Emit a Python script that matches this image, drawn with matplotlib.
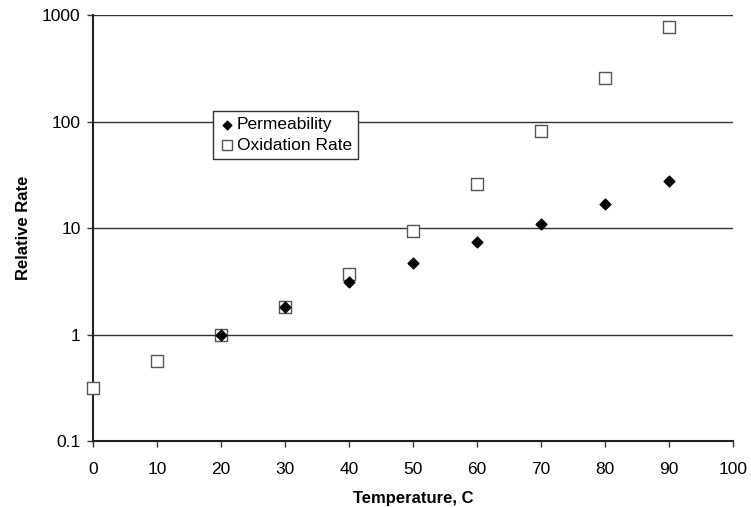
import matplotlib
matplotlib.use("Agg")
import matplotlib.pyplot as plt

plt.rcParams['font.family'] = ['Liberation Sans', 'DejaVu Sans']

temp_ox = [0, 10, 20, 30, 40, 50, 60, 70, 80, 90]
oxidation = [0.315, 0.56, 1.0, 1.8, 3.7, 9.3, 26, 81, 255, 770]

temp_perm = [20, 30, 40, 50, 60, 70, 80, 90]
permeability = [1.0, 1.8, 3.1, 4.7, 7.4, 11, 17, 27.5]

fig = plt.figure(figsize=(7.51, 5.08), dpi=100)
ax = fig.add_axes([0.124, 0.132, 0.852, 0.838])

ax.set_yscale('log')
ax.set_xlim(0, 100)
ax.set_ylim(0.1, 1000)

for y in [1, 10, 100, 1000]:
    ax.axhline(y, color='#333333', lw=1.0, zorder=1)

ax.scatter(temp_perm, permeability, marker='D', s=30, color='black', zorder=4,
           label='Permeability')
ax.scatter(temp_ox, oxidation, marker='s', s=75, facecolor='white',
           edgecolor='#555555', linewidth=1.0, zorder=3, label='Oxidation Rate',
           clip_on=False)

ax.set_xticks(range(0, 101, 10))
ax.set_yticks([0.1, 1, 10, 100, 1000])
ax.set_yticklabels(['0.1', '1', '10', '100', '1000'])
ax.minorticks_off()
ax.tick_params(direction='out', length=4, width=1, labelsize=12.5, color='#333333')
ax.tick_params(axis='x', pad=11)
ax.tick_params(axis='y', pad=5)

for s in ['top', 'right']:
    ax.spines[s].set_visible(False)
for s in ['left', 'bottom']:
    ax.spines[s].set_linewidth(1.5)
    ax.spines[s].set_color('#222222')

ax.set_xlabel('Temperature, C', fontsize=12, fontweight='bold', labelpad=10)
ax.set_ylabel('Relative Rate', fontsize=12, fontweight='bold', labelpad=8)

leg = ax.legend(loc='upper left', bbox_to_anchor=(0.1875, 0.775), borderaxespad=0,
                fancybox=False, edgecolor='#333333', framealpha=1, fontsize=12.5,
                handletextpad=0.1, handlelength=0.9, borderpad=0.35,
                labelspacing=0.3, markerscale=0.8)
leg.get_frame().set_linewidth(1.0)

fig.savefig('out.png', dpi=100)
